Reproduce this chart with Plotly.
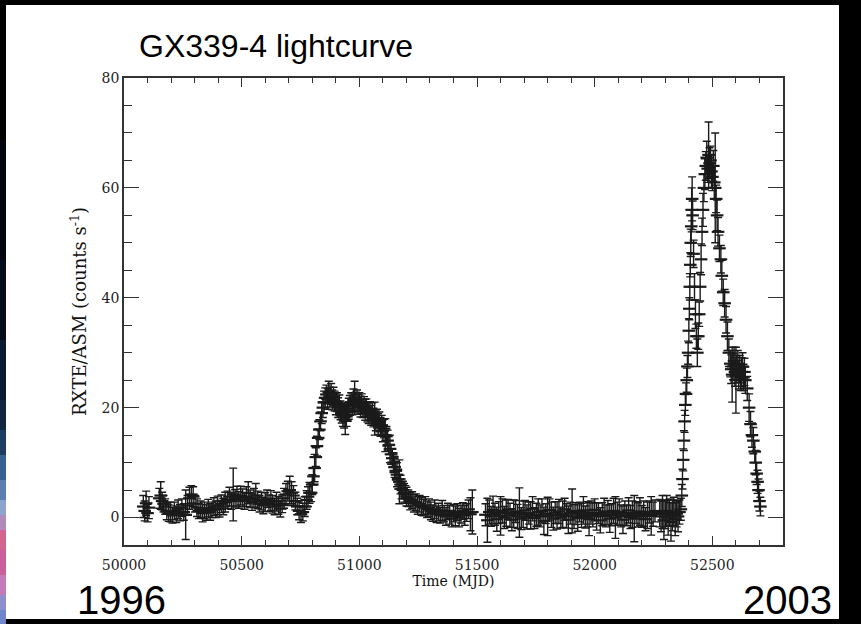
import plotly.graph_objects as go

# ---------------- data ----------------
# 1996-1998 low/hard state
mjd_1 = [50082, 50088, 50094, 50100, 50106, 50150, 50156, 50162, 50168, 50175,
         50182, 50190, 50198, 50206, 50214, 50222, 50230, 50238, 50246, 50254,
         50262, 50270, 50278, 50286, 50294, 50302, 50310, 50318, 50326, 50334,
         50342, 50350, 50358, 50366, 50374, 50382, 50390, 50398, 50406, 50414,
         50422, 50430, 50440, 50448, 50456, 50464, 50472, 50480, 50488, 50496,
         50504, 50512, 50520, 50528, 50536, 50544, 50552, 50560, 50568, 50576,
         50584, 50592, 50600, 50608, 50616, 50624, 50632, 50640, 50648, 50656,
         50664, 50672, 50680, 50688, 50696, 50704, 50712, 50720, 50728, 50736,
         50744, 50752, 50760, 50768, 50776, 50782, 50788]
rate_1 = [2.0, 1.2, 2.6, 0.8, 1.8, 3.5, 4.0, 3.0, 2.5, 2.0,
          1.2, 0.8, 1.0, 0.4, 1.2, 0.6, 1.5, 0.9, 1.8, 1.0,
          0.5, 2.2, 3.5, 4.2, 3.8, 2.5, 1.8, 1.2, 1.5, 0.8,
          1.3, 0.9, 1.7, 1.0, 1.4, 2.0, 1.5, 2.2, 1.6, 2.5,
          2.0, 2.8, 3.2, 3.8, 3.0, 4.2, 3.5, 3.9, 3.2, 4.0,
          3.6, 3.0, 3.8, 4.5, 3.4, 2.8, 3.6, 4.0, 3.2, 2.5,
          3.0, 2.2, 2.8, 3.4, 2.6, 3.1, 2.4, 2.0, 2.9, 2.2,
          1.6, 2.5, 3.5, 4.2, 4.8, 5.0, 4.5, 4.0, 3.0, 2.0,
          1.2, 0.6, 1.0, 2.0, 3.2, 3.8, 4.5]
err_1 = [2.0, 1.8, 2.2, 1.6, 2.0, 1.8, 2.5, 1.6, 1.5, 1.4,
         1.6, 1.5, 1.8, 1.4, 1.6, 1.5, 1.7, 1.5, 1.6, 1.5,
         4.5, 1.8, 2.0, 1.6, 1.8, 1.5, 1.6, 1.4, 1.5, 1.6,
         1.5, 1.4, 1.6, 1.5, 1.4, 1.6, 1.5, 1.7, 1.5, 1.6,
         1.5, 1.8, 1.6, 1.7, 1.5, 4.8, 1.6, 1.8, 1.5, 1.7,
         1.6, 1.5, 1.8, 2.0, 1.6, 1.5, 1.7, 2.2, 1.6, 1.5,
         1.6, 1.5, 1.7, 1.6, 1.5, 1.8, 1.6, 1.5, 1.7, 1.6,
         1.5, 1.6, 1.8, 2.0, 1.8, 2.5, 2.0, 1.8, 1.6, 1.5,
         1.6, 1.5, 1.6, 1.8, 1.7, 1.8, 1.9]

# 1998-1999 outburst
mjd_2 = [50795, 50800, 50805, 50810, 50815, 50820, 50825, 50830, 50835, 50840,
         50845, 50850, 50855, 50860, 50865, 50870, 50875, 50880, 50885, 50890,
         50895, 50900, 50905, 50910, 50915, 50920, 50925, 50930, 50935, 50940,
         50945, 50950, 50955, 50960, 50965, 50970, 50975, 50980, 50985, 50990,
         50995, 51000, 51005, 51010, 51015, 51020, 51025, 51030, 51035, 51040,
         51045, 51050, 51055, 51060, 51065, 51070, 51075, 51080, 51085, 51090,
         51095, 51100, 51105, 51110, 51115, 51120, 51125, 51130, 51135, 51140,
         51145, 51150, 51155, 51160, 51165, 51170, 51175, 51180, 51185, 51190,
         51195, 51200, 51208, 51216, 51224, 51232, 51240, 51248, 51256, 51264,
         51272, 51280, 51288, 51296]
rate_2 = [4.5, 6.0, 7.5, 9.0, 11.0, 13.0, 14.5, 16.0, 17.5, 19.0,
          20.0, 21.0, 21.8, 22.4, 21.6, 22.8, 21.9, 22.5, 21.4, 22.0,
          21.2, 20.6, 21.0, 20.0, 20.4, 19.5, 19.0, 18.6, 18.2, 17.6,
          18.4, 19.2, 19.8, 20.4, 21.0, 20.6, 21.4, 21.8, 21.0, 21.3,
          20.6, 21.0, 20.2, 20.7, 19.9, 20.2, 19.6, 19.9, 19.2, 19.0,
          19.4, 18.6, 19.0, 18.2, 18.0, 17.6, 18.0, 17.0, 17.4, 16.5,
          16.8, 15.8, 16.2, 15.0, 14.8, 14.0, 13.2, 12.5, 11.5, 10.8,
          10.0, 9.2, 8.5, 7.8, 7.0, 6.5, 6.0, 5.2, 5.0, 4.5,
          4.2, 3.8, 3.5, 3.0, 3.2, 2.6, 2.8, 2.2, 2.5, 2.0,
          1.8, 2.2, 1.5, 1.8]
err_2 = [1.6, 1.8, 1.6, 2.5, 1.7, 1.8, 1.6, 1.8, 1.7, 1.9,
         1.8, 2.0, 1.8, 1.7, 1.9, 2.0, 1.8, 1.9, 1.8, 1.7,
         1.8, 1.9, 1.7, 1.8, 1.9, 1.7, 1.8, 2.0, 1.9, 2.5,
         1.8, 1.7, 1.9, 1.8, 1.7, 1.9, 2.0, 3.0, 1.8, 1.9,
         1.8, 1.7, 1.9, 1.8, 1.7, 1.8, 1.9, 1.7, 1.8, 1.9,
         1.7, 1.8, 1.9, 1.7, 3.0, 1.8, 1.7, 1.9, 1.8, 1.7,
         1.8, 2.0, 1.7, 3.0, 1.8, 1.9, 1.7, 2.5, 1.8, 1.7,
         1.8, 1.9, 1.7, 2.2, 1.8, 4.0, 1.7, 1.8, 1.6, 1.7,
         1.6, 1.7, 1.5, 1.6, 1.5, 1.6, 1.5, 1.6, 1.5, 1.6,
         1.5, 1.6, 1.5, 1.6]

# 1999-2002 off / low state
mjd_3 = [51304, 51312, 51320, 51328, 51336, 51344, 51352, 51360, 51368, 51376,
         51384, 51392, 51400, 51408, 51416, 51424, 51432, 51440, 51448, 51456,
         51464, 51472, 51480, 51536, 51544, 51552, 51560, 51568, 51576, 51584,
         51592, 51600, 51608, 51616, 51624, 51632, 51640, 51648, 51656, 51664,
         51672, 51680, 51688, 51696, 51704, 51712, 51720, 51728, 51736, 51744,
         51752, 51760, 51768, 51776, 51784, 51792, 51800, 51808, 51816, 51824,
         51832, 51840, 51848, 51856, 51864, 51872, 51880, 51888, 51896, 51904,
         51912, 51920, 51928, 51936, 51944, 51952, 51960, 51968, 51976, 51984,
         51992, 52000, 52008, 52016, 52024, 52032, 52040, 52048, 52056, 52064,
         52072, 52080, 52088, 52096, 52104, 52112, 52120, 52128, 52136, 52144,
         52152, 52160, 52168, 52176, 52184, 52192, 52200, 52208, 52216, 52224,
         52232, 52240, 52248, 52256, 52276, 52282, 52288, 52294, 52300, 52306,
         52312, 52318, 52324, 52330, 52336, 52342, 52348, 52354, 52360, 52366]
rate_3 = [1.2, 0.8, 1.5, 0.6, 1.0, 0.4, 1.3, 0.7, 0.2, 1.1,
          0.5, -0.2, 0.8, 0.3, 1.0, 0.0, 0.6, 1.2, 0.4, 0.9,
          1.5, 0.6, 1.0, 0.5, -0.5, 1.0, 0.2, 1.4, 0.6, -0.3,
          0.9, 0.3, 1.2, 0.0, 0.8, 1.5, 0.4, -0.4, 0.7, 1.1,
          0.2, 0.9, -0.2, 0.6, 1.3, 0.1, 0.8, 0.4, 1.6, -0.1,
          0.5, 1.0, 0.3, 1.2, -0.6, 0.7, 0.2, 1.4, 0.5, -0.2,
          0.9, 0.4, 1.1, 0.0, 0.6, 1.5, 0.3, -0.4, 0.8, 1.2,
          0.2, 0.7, -0.1, 1.0, 0.4, 1.3, 0.1, 0.6, -0.3, 0.9,
          0.5, 1.4, 0.2, 0.8, -0.5, 0.6, 1.1, 0.3, 0.9, -0.2,
          0.5, 1.2, 0.0, 0.7, 1.0, 0.3, -0.4, 0.8, 0.4, 1.3,
          0.1, 0.6, -0.2, 0.9, 0.5, 1.1, 0.2, 0.7, -0.3, 0.4,
          1.0, 0.3, 0.6, 1.2, 0.8, 0.2, 1.0, -0.5, 0.6, 1.2,
          0.0, 0.9, -0.8, 0.4, 1.1, -0.3, 0.7, 0.2, 1.0, 1.5]
err_3 = [1.6, 1.5, 1.7, 1.5, 1.6, 1.4, 1.8, 1.5, 1.6, 1.5,
         1.7, 1.5, 1.6, 1.8, 1.5, 1.7, 1.6, 1.5, 1.8, 1.6,
         1.7, 3.0, 4.0, 2.0, 4.0, 2.2, 1.8, 2.5, 2.0, 2.2,
         2.0, 3.5, 2.2, 2.0, 2.4, 1.8, 2.2, 2.0, 2.5, 2.0,
         2.2, 4.5, 2.0, 2.4, 1.8, 2.2, 2.0, 2.5, 2.2, 1.9,
         2.1, 2.4, 2.0, 2.2, 2.5, 1.8, 3.5, 2.0, 2.3, 2.1,
         2.0, 2.5, 2.2, 1.9, 2.4, 2.0, 2.2, 2.5, 2.0, 4.0,
         2.2, 2.0, 2.4, 1.8, 2.2, 2.5, 2.0, 2.3, 3.0, 2.1,
         2.2, 2.0, 2.5, 1.9, 2.3, 2.1, 2.4, 2.0, 2.2, 2.5,
         2.0, 2.3, 3.8, 2.1, 2.4, 2.0, 2.5, 2.2, 1.9, 2.3,
         2.1, 2.4, 4.2, 2.0, 2.2, 2.5, 2.0, 2.3, 2.1, 2.4,
         2.0, 3.5, 2.2, 2.0, 2.5, 2.8, 3.0, 3.5, 2.6, 2.8,
         3.2, 2.5, 3.5, 2.8, 2.6, 3.0, 2.4, 2.8, 2.2, 2.0]

# 2002-2003 outburst
mjd_4 = [52370, 52373, 52376, 52379, 52382, 52385, 52388, 52391, 52394, 52397,
         52400, 52402, 52404, 52406, 52408, 52410, 52412, 52414, 52416, 52420,
         52424, 52428, 52432, 52436, 52440, 52444, 52448, 52452, 52456, 52460,
         52464, 52468, 52472, 52476, 52480, 52484, 52488, 52492, 52496, 52500,
         52504, 52508, 52512, 52516, 52520, 52524, 52530, 52536, 52540, 52546,
         52552, 52558, 52564, 52570, 52576, 52580, 52584, 52588, 52592, 52596,
         52600, 52604, 52608, 52612, 52616, 52620, 52624, 52628, 52632, 52636,
         52640, 52648, 52656, 52662, 52668, 52674, 52680, 52684, 52688, 52692,
         52696, 52700, 52704]
rate_4 = [4.0, 7.0, 10.5, 14.0, 17.5, 20.5, 22.5, 25.0, 27.5, 30.0,
          34.0, 38.0, 42.0, 46.0, 50.0, 53.0, 56.0, 58.0, 55.0, 48.0,
          42.0, 37.0, 33.0, 30.0, 33.0, 37.0, 42.0, 47.0, 52.0, 56.0,
          60.0, 62.5, 64.0, 65.5, 63.5, 66.0, 64.5, 65.0, 63.0, 62.0,
          64.0, 61.0, 60.0, 58.0, 55.0, 52.0, 49.0, 47.0, 44.0, 41.0,
          39.0, 36.0, 33.0, 30.0, 28.0, 27.0, 26.0, 27.5, 28.5, 26.5,
          25.0, 27.0, 28.0, 26.0, 27.0, 25.5, 26.5, 27.5, 25.5, 26.5,
          25.0, 23.5, 20.0, 17.0, 15.0, 14.0, 12.0, 10.0, 8.0, 6.5,
          5.0, 3.0, 2.0]
err_4 = [2.0, 1.8, 2.0, 1.8, 2.0, 1.9, 2.0, 2.2, 2.0, 2.1,
         2.2, 2.0, 2.4, 2.2, 2.5, 3.0, 4.0, 4.0, 2.6, 2.5,
         2.4, 2.6, 2.2, 2.5, 2.4, 2.2, 2.6, 2.8, 2.5, 3.0,
         2.5, 2.8, 2.6, 3.0, 2.5, 6.0, 2.8, 2.6, 3.0, 2.5,
         2.8, 3.0, 10.0, 2.5, 2.8, 2.6, 2.4, 2.5, 2.8, 2.4,
         2.5, 2.4, 2.6, 2.5, 2.4, 2.6, 5.0, 2.4, 2.5, 2.6,
         6.0, 2.5, 2.4, 2.6, 2.5, 2.4, 2.6, 2.5, 2.4, 2.5,
         2.4, 2.2, 2.5, 2.3, 2.2, 2.4, 2.0, 2.2, 2.0, 2.1,
         2.0, 1.8, 1.7]

x_range = [50000, 52800]
y_range = [-5, 80]
x_title = "Time (MJD)"
y_title = "RXTE/ASM (counts s<sup>-1</sup>)"
chart_title = "GX339-4 lightcurve"
year_start = "1996"
year_end = "2003"

# ---------------- layout geometry (pixels) ----------------
W, H = 861, 624
L, R, T, B = 124, 783, 78, 545


def px(x):
    return (x - L) / (R - L)


def py(y):
    return (B - y) / (B - T)


INK = "#1a1a1a"
SERIF = "DejaVu Serif"

fig = go.Figure()
for xs, ys, es in [(mjd_1, rate_1, err_1), (mjd_2, rate_2, err_2),
                   (mjd_3, rate_3, err_3), (mjd_4, rate_4, err_4)]:
    fig.add_trace(go.Scatter(
        x=xs, y=ys, mode="markers",
        marker=dict(symbol="line-ew", size=9, color=INK,
                    line=dict(width=2.2, color=INK)),
        error_y=dict(type="data", array=es, visible=True, color=INK,
                     thickness=1.4, width=4),
        showlegend=False, hoverinfo="x+y",
    ))

axis_common = dict(
    showline=True, linecolor="#333333", linewidth=1.6, mirror="allticks",
    ticks="inside", tickcolor="#333333", tickwidth=1.4,
    showgrid=False, zeroline=False,
    tickfont=dict(family=SERIF, size=14, color="#222222"),
)

fig.update_xaxes(
    range=x_range, tick0=50000, dtick=500, ticklen=9, tickformat="d",
    ticklabelstandoff=6,
    minor=dict(dtick=100, ticklen=5, ticks="inside", tickcolor="#333333",
               tickwidth=1.4, showgrid=False),
    title=dict(text=x_title, font=dict(family=SERIF, size=14, color="#111111"),
               standoff=4),
    **axis_common,
)
fig.update_yaxes(
    range=y_range, tick0=0, dtick=20, ticklen=15, tickformat="d",
    minor=dict(dtick=5, ticklen=8, ticks="inside", tickcolor="#333333",
               tickwidth=1.4, showgrid=False),
    title=dict(text=y_title, font=dict(family=SERIF, size=18, color="#111111"),
               standoff=10),
    **axis_common,
)

# background: black page, white slide area, coloured strip on the left edge
shapes = [dict(type="rect", xref="paper", yref="paper", layer="below",
               x0=px(6), x1=px(839), y0=py(619), y1=py(5),
               fillcolor="white", line=dict(width=0))]
strip = [(0, 140, "#000000"), (140, 260, "#03060c"), (260, 340, "#060d1a"),
         (340, 400, "#0b1a2e"), (400, 430, "#13263f"), (430, 455, "#1f3d63"),
         (455, 480, "#35628f"), (480, 500, "#5a7fae"), (500, 515, "#8fa3cf"),
         (515, 530, "#b08ab8"), (530, 550, "#d2648f"), (550, 575, "#c9609a"),
         (575, 595, "#c57ab8"), (595, 610, "#8f8fd0"), (610, 624, "#6f86cc")]
for y0, y1, c in strip:
    shapes.append(dict(type="rect", xref="paper", yref="paper", layer="below",
                       x0=px(0), x1=px(6), y0=py(y1), y1=py(y0),
                       fillcolor=c, line=dict(width=0)))

annotations = [
    dict(text=chart_title, xref="paper", yref="paper", x=px(137), y=py(46),
         xanchor="left", yanchor="middle", showarrow=False,
         font=dict(family="Liberation Sans", size=32, color="#000000")),
    dict(text=year_start, xref="paper", yref="paper", x=px(121), y=py(600),
         xanchor="center", yanchor="middle", showarrow=False,
         font=dict(family="Liberation Sans", size=40, color="#000000")),
    dict(text=year_end, xref="paper", yref="paper", x=px(787), y=py(600),
         xanchor="center", yanchor="middle", showarrow=False,
         font=dict(family="Liberation Sans", size=40, color="#000000")),
]

fig.update_layout(
    width=W, height=H,
    margin=dict(l=L, r=W - R, t=T, b=H - B),
    paper_bgcolor="#000000", plot_bgcolor="#ffffff",
    shapes=shapes, annotations=annotations,
    showlegend=False,
)

fig.write_html("out.html")
